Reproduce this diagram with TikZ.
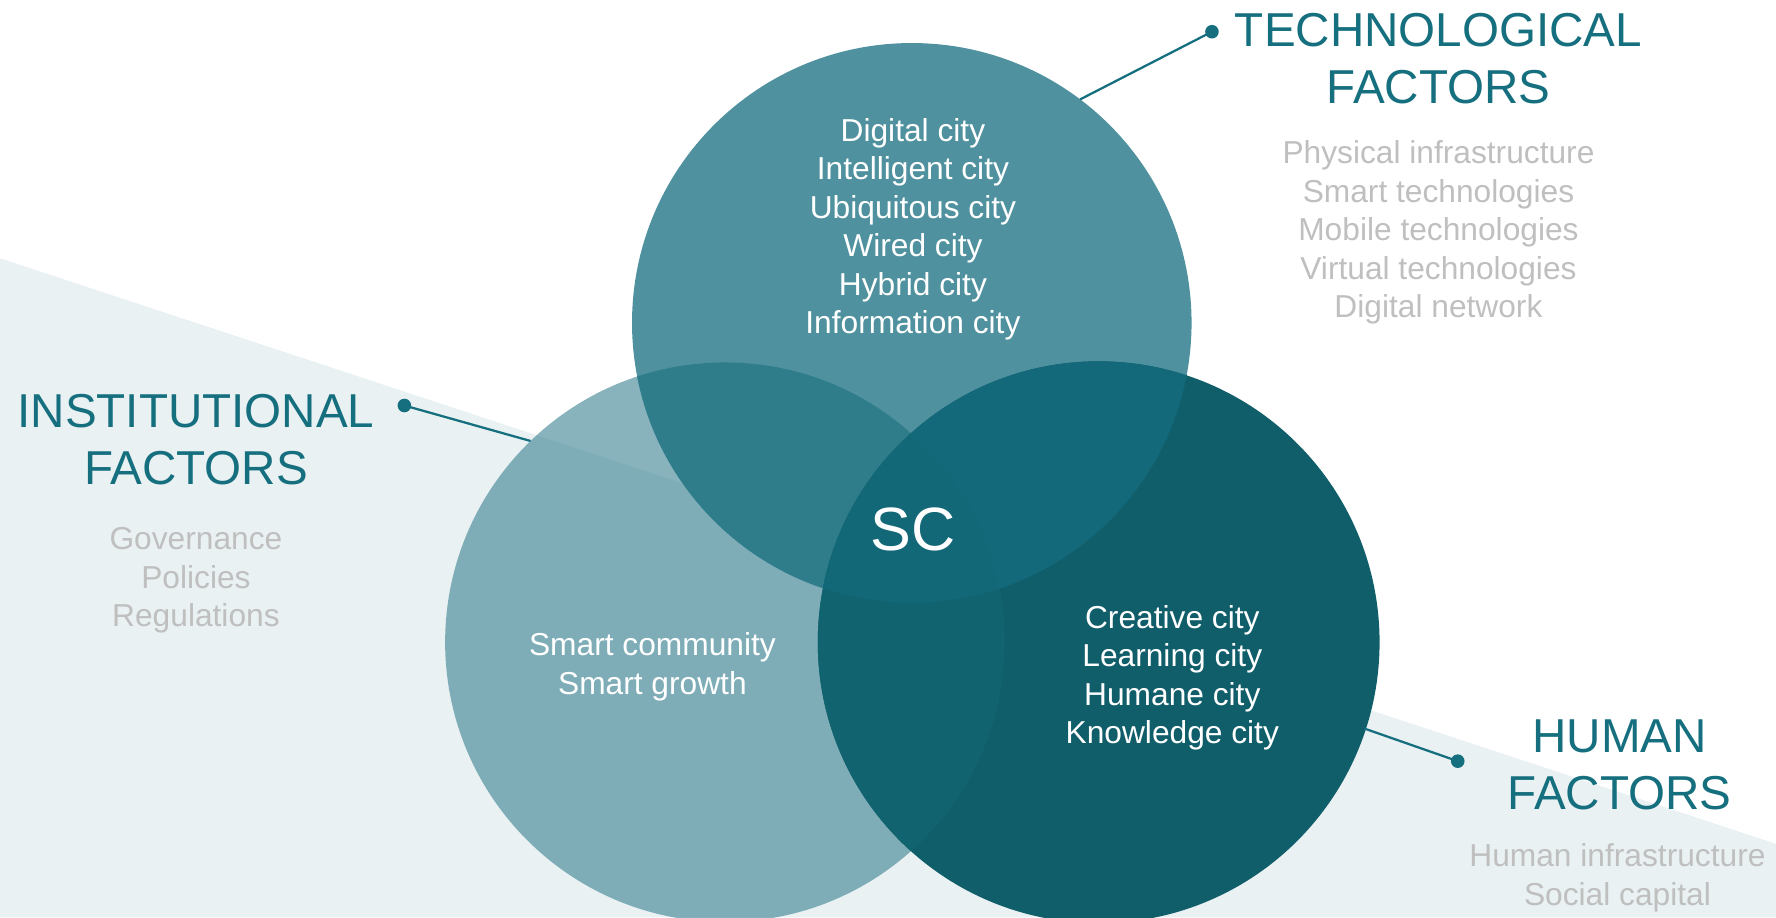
\documentclass[tikz,border=0pt]{standalone}
\usepackage{fontspec}
\setmainfont{Liberation Sans}
\definecolor{headc}{RGB}{21,111,126}
\definecolor{grayt}{RGB}{191,191,191}
\definecolor{bgtri}{RGB}{233,241,243}
\definecolor{ctop}{RGB}{79,145,158}
\definecolor{cleft}{RGB}{56,129,145}
\definecolor{cright}{RGB}{17,94,107}
\definecolor{otl}{RGB}{47,124,138}
\definecolor{otr}{RGB}{19,104,122}
\definecolor{olr}{RGB}{17,99,111}
\definecolor{ocen}{RGB}{19,104,120}
\begin{document}
\begin{tikzpicture}[x=0.5pt,y=-0.5pt,
  venn/.style={circle, inner sep=0pt, outer sep=0pt, minimum size=247pt},
  ctext/.style={text=white, font=\fontsize{14}{17}\selectfont, align=center, inner sep=0pt},
  headtext/.style={text=headc, font=\fontsize{21}{25}\selectfont, align=center, inner sep=0pt},
  graytext/.style={text=grayt, font=\fontsize{14}{17}\selectfont, align=center, inner sep=0pt},
  dotnode/.style={circle, fill=headc, inner sep=0pt, minimum size=6pt},
  conn/.style={draw=headc, line width=1pt}]
\useasboundingbox (0,0) rectangle (1568,810);
\fill[bgtri] (0,228) -- (1568,745) -- (1568,810) -- (0,810) -- cycle;
\node[venn] (T) at (805,285) {};
\node[venn] (L) at (640,567) {};
\node[venn] (R) at (970,567) {};
\fill[cleft, opacity=0.6] (L.center) circle (123.5pt);
\fill[ctop] (T.center) circle (123.5pt);
\begin{scope}
  \clip (L.center) circle (123.5pt);
  \fill[otl] (T.center) circle (123.5pt);
\end{scope}
\fill[cright] (R.center) circle (124pt);
\begin{scope}
  \clip (R.center) circle (124pt);
  \fill[olr] (L.center) circle (123.5pt);
  \fill[otr] (T.center) circle (123.5pt);
  \clip (L.center) circle (123.5pt);
  \fill[ocen] (T.center) circle (123.5pt);
\end{scope}
% connectors
\node[dotnode] (dT) at (1070,28) {};
\node[dotnode] (dL) at (357,358) {};
\node[dotnode] (dR) at (1287,672) {};
\draw[conn] (dT.center) -- (T.53.2);
\draw[conn] (dL.center) -- (L.134.8);
\draw[conn] (dR.center) -- (R.-18.8);
% circle texts
\node[ctext] (tT) at (806,202.5) {Digital city\\Intelligent city\\Ubiquitous city\\Wired city\\Hybrid city\\Information city};
\node[ctext] (tL) at (576,588.5) {Smart community\\Smart growth};
\node[ctext] (tR) at (1035,598.5) {Creative city\\Learning city\\Humane city\\Knowledge city};
\node[text=white, font=\fontsize{27}{30}\selectfont, inner sep=0pt] (sc) at (806,467) {SC};
% headings
\node[headtext] (hT) at (1270,52) {TECHNOLOGICAL\\FACTORS};
\node[headtext] (hL) at (173,388) {INSTITUTIONAL\\FACTORS};
\node[headtext] (hR) at (1430,675) {HUMAN\\FACTORS};
% gray lists
\node[graytext] (gT) at (1270,205.5) {Physical infrastructure\\Smart technologies\\Mobile technologies\\Virtual technologies\\Digital network};
\node[graytext] (gL) at (173,512.5) {Governance\\Policies\\Regulations};
\node[graytext] (gR) at (1428,775) {Human infrastructure\\Social capital};
\end{tikzpicture}
\end{document}
